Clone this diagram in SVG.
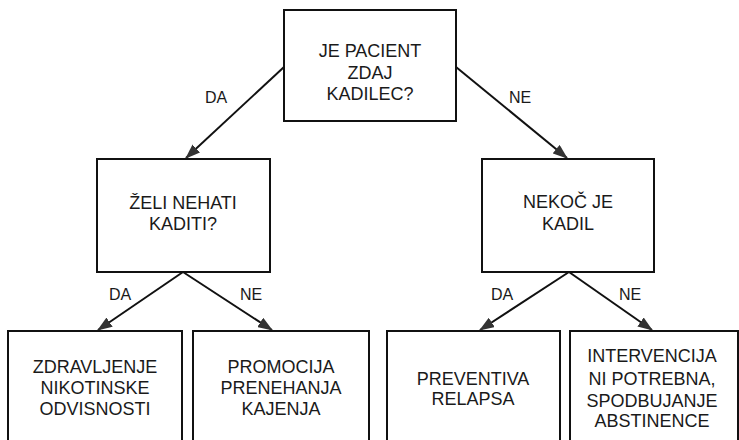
<svg xmlns="http://www.w3.org/2000/svg" width="739" height="440" viewBox="0 0 739 440">
<style>
.box{fill:#fff;stroke:#111;stroke-width:2}
.t{font-family:"Liberation Sans",Arial,sans-serif;font-size:18px;fill:#1a1a1a;text-anchor:middle}
.l{font-family:"Liberation Sans",Arial,sans-serif;font-size:16px;fill:#1a1a1a;text-anchor:middle}
.c{stroke:#111;stroke-width:2;fill:none;marker-end:url(#ah)}
</style>
<defs>
<marker id="ah" markerWidth="15" markerHeight="11" refX="14" refY="5.5" orient="auto" markerUnits="userSpaceOnUse">
<path d="M0,0 L15,5.5 L0,11 Z" fill="#333"/>
</marker>
</defs>
<rect width="739" height="440" fill="#fff"/>
<g id="connectors">
<line class="c" x1="284" y1="67" x2="186" y2="158"/>
<line class="c" x1="456" y1="67" x2="567" y2="158"/>
<line class="c" x1="183" y1="272" x2="98" y2="330"/>
<line class="c" x1="183" y1="272" x2="272" y2="330"/>
<line class="c" x1="569" y1="272" x2="480" y2="330"/>
<line class="c" x1="569" y1="272" x2="652" y2="330"/>
<text class="l" x="216" y="103">DA</text>
<text class="l" x="520" y="103">NE</text>
<text class="l" x="120" y="300">DA</text>
<text class="l" x="251" y="300">NE</text>
<text class="l" x="502" y="300">DA</text>
<text class="l" x="630" y="300">NE</text>
</g>
<g id="n-root">
<rect class="box" x="284" y="10" width="172" height="111"/>
<text class="t" x="370" y="57">JE PACIENT</text>
<text class="t" x="370" y="79">ZDAJ</text>
<text class="t" x="370" y="100">KADILEC?</text>
</g>
<g id="n-zeli">
<rect class="box" x="97" y="159" width="173" height="113"/>
<text class="t" x="183" y="209">ŽELI NEHATI</text>
<text class="t" x="183" y="230">KADITI?</text>
</g>
<g id="n-nekoc">
<rect class="box" x="482" y="159" width="172" height="113"/>
<text class="t" x="568" y="208">NEKOČ JE</text>
<text class="t" x="568" y="230">KADIL</text>
</g>
<g id="n-zdravljenje">
<rect class="box" x="8" y="331" width="174" height="115"/>
<text class="t" x="95" y="373">ZDRAVLJENJE</text>
<text class="t" x="95" y="394">NIKOTINSKE</text>
<text class="t" x="95" y="415">ODVISNOSTI</text>
</g>
<g id="n-promocija">
<rect class="box" x="193" y="331" width="176" height="115"/>
<text class="t" x="281" y="373">PROMOCIJA</text>
<text class="t" x="281" y="394">PRENEHANJA</text>
<text class="t" x="281" y="415">KAJENJA</text>
</g>
<g id="n-preventiva">
<rect class="box" x="387" y="331" width="173" height="115"/>
<text class="t" x="473" y="385">PREVENTIVA</text>
<text class="t" x="473" y="405">RELAPSA</text>
</g>
<g id="n-intervencija">
<rect class="box" x="570" y="331" width="168" height="115"/>
<text class="t" x="652" y="362">INTERVENCIJA</text>
<text class="t" x="652" y="385">NI POTREBNA,</text>
<text class="t" x="652" y="407">SPODBUJANJE</text>
<text class="t" x="652" y="427">ABSTINENCE</text>
</g>
</svg>
